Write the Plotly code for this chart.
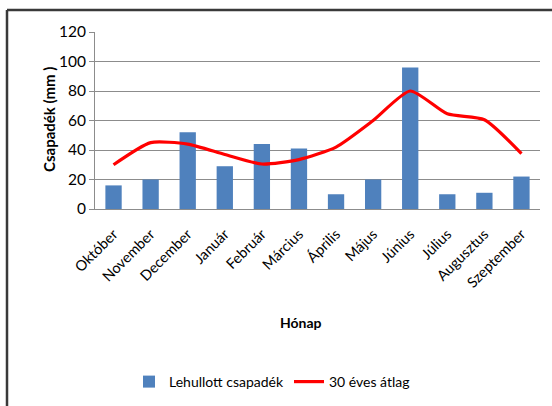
import plotly.graph_objects as go

# Monthly precipitation vs. 30-year average
months = ["Október", "November", "December", "Január", "Február", "Március",
          "Április", "Május", "Június", "Július", "Augusztus", "Szeptember"]
rainfall = [16, 20, 52, 29, 44, 41, 10, 20, 96, 10, 11, 22]
avg_30yr = [30, 45, 44, 37, 30.5, 33.5, 42, 60, 80, 64.5, 60.5, 37.5]
y_ticks = [0, 20, 40, 60, 80, 100, 120]

W, H = 552, 406
L, R, T, B = 95, 12, 32, 197
pw, ph = W - L - R, H - T - B


def px_x(x):
    return (x - L) / pw


def px_y(y):
    return (H - B - y) / ph


FONT = "Lato"
GRID = "#8c8c8c"

fig = go.Figure()
fig.add_trace(go.Bar(
    x=months, y=rainfall, name="Lehullott csapadék",
    marker=dict(color="#4F81BD", line=dict(width=0)),
))
fig.add_trace(go.Scatter(
    x=months, y=avg_30yr, name="30 éves átlag", mode="lines",
    line=dict(color="#FF0000", width=3.2, shape="spline", smoothing=0.6),
))

fig.update_layout(
    width=W, height=H,
    margin=dict(l=L, r=R, t=T, b=B, autoexpand=False),
    paper_bgcolor="white", plot_bgcolor="white",
    bargap=0.56,
    font=dict(family=FONT, color="#000000", size=12),
    showlegend=True,
    legend=dict(orientation="h", x=px_x(272), xanchor="center",
                y=px_y(382), yanchor="middle",
                font=dict(family=FONT, size=14), itemwidth=30,
                tracegroupgap=0, bgcolor="rgba(0,0,0,0)"),
    xaxis=dict(
        tickangle=-45, tickfont=dict(family=FONT, size=14.5),
        showgrid=False, showline=True, linecolor=GRID, linewidth=1,
        ticks="outside", ticklen=0, tickcolor=GRID, ticklabelstandoff=10,
    ),
    yaxis=dict(
        range=[0, 120], tickvals=y_ticks, ticktext=[str(v) for v in y_ticks],
        tickfont=dict(family=FONT, size=15.5),
        showgrid=True, gridcolor=GRID, gridwidth=1,
        showline=True, linecolor=GRID, linewidth=1,
        ticks="outside", ticklen=5, tickcolor=GRID, zeroline=False,
    ),
    annotations=[
        dict(text="<b>Csapadék (mm )</b>", x=px_x(38), y=px_y(120),
             xref="paper", yref="paper", showarrow=False, textangle=-90,
             font=dict(family=FONT, size=15)),
        dict(text="<b>Hónap</b>", x=px_x(301), y=px_y(333),
             xref="paper", yref="paper", showarrow=False,
             font=dict(family=FONT, size=14)),
    ],
    shapes=[
        # outer frame: left and top edges
        dict(type="line", xref="paper", yref="paper",
             x0=px_x(7), x1=px_x(7), y0=px_y(10), y1=px_y(406),
             line=dict(color="#3a3a3a", width=2.5)),
        dict(type="line", xref="paper", yref="paper",
             x0=px_x(7), x1=px_x(552), y0=px_y(10), y1=px_y(10),
             line=dict(color="#3a3a3a", width=2.5)),
    ],
)

fig.write_html("out.html")
